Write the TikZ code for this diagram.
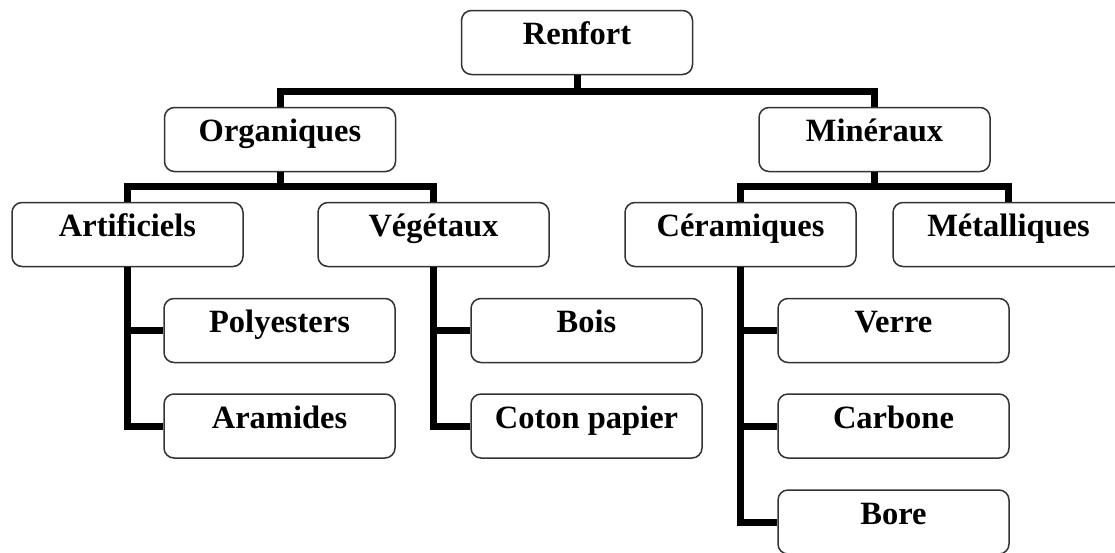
\documentclass[tikz,border=0pt]{standalone}
\usepackage{fontspec}
\setmainfont{Liberation Serif}
\begin{document}
\begin{tikzpicture}[x=1pt,y=-1pt,
  box/.style={draw=black!80, line width=1.5pt, rounded corners=10pt, fill=white,
    minimum width=231pt, minimum height=64pt, inner sep=0pt,
    text height=21pt, text depth=17pt,
    font=\fontsize{32.5}{39}\selectfont\bfseries},
  conn/.style={line width=7pt, line join=miter, line cap=butt}]
\clip (0,0) rectangle (1115,552);
\fill[white] (0,0) rectangle (1115,552);
% bus levels
\coordinate (b0) at (0,91.5);
\coordinate (b1) at (0,186.5);
\node[box] (renfort) at (577,42.5) {Renfort};
\node[box] (org) at (280,139.5) {Organiques};
\node[box] (min) at (874.5,139.5) {Minéraux};
\node[box] (art) at (127.5,234.5) {Artificiels};
\node[box] (veg) at (433.5,234.5) {Végétaux};
\node[box] (cer) at (740.5,234.5) {Céramiques};
\node[box] (met) at (1008.5,234.5) {Métalliques};
\node[box] (poly) at (279.5,330.5) {Polyesters};
\node[box] (ara) at (279.5,426) {Aramides};
\node[box] (bois) at (586.5,330.5) {Bois};
\node[box] (coton) at (586.5,426) {Coton papier};
\node[box] (verre) at (893.5,330.5) {Verre};
\node[box] (carb) at (893.5,426) {Carbone};
\node[box] (bore) at (893.5,522) {Bore};
% tree connectors
\draw[conn] (renfort.south) -- (renfort.south |- b0);
\draw[conn] (org.north) -- (org.north |- b0) -| (min.north);
\draw[conn] (org.south) -- (org.south |- b1);
\draw[conn] (art.north) -- (art.north |- b1) -| (veg.north);
\draw[conn] (min.south) -- (min.south |- b1);
\draw[conn] (cer.north) -- (cer.north |- b1) -| (met.north);
% side branches
\draw[conn] (art.south) |- (ara.west);
\draw[conn] (art.south |- poly.west) -- (poly.west);
\draw[conn] (veg.south) |- (coton.west);
\draw[conn] (veg.south |- bois.west) -- (bois.west);
\draw[conn] (cer.south) |- (bore.west);
\draw[conn] (cer.south |- verre.west) -- (verre.west);
\draw[conn] (cer.south |- carb.west) -- (carb.west);
\end{tikzpicture}
\end{document}
